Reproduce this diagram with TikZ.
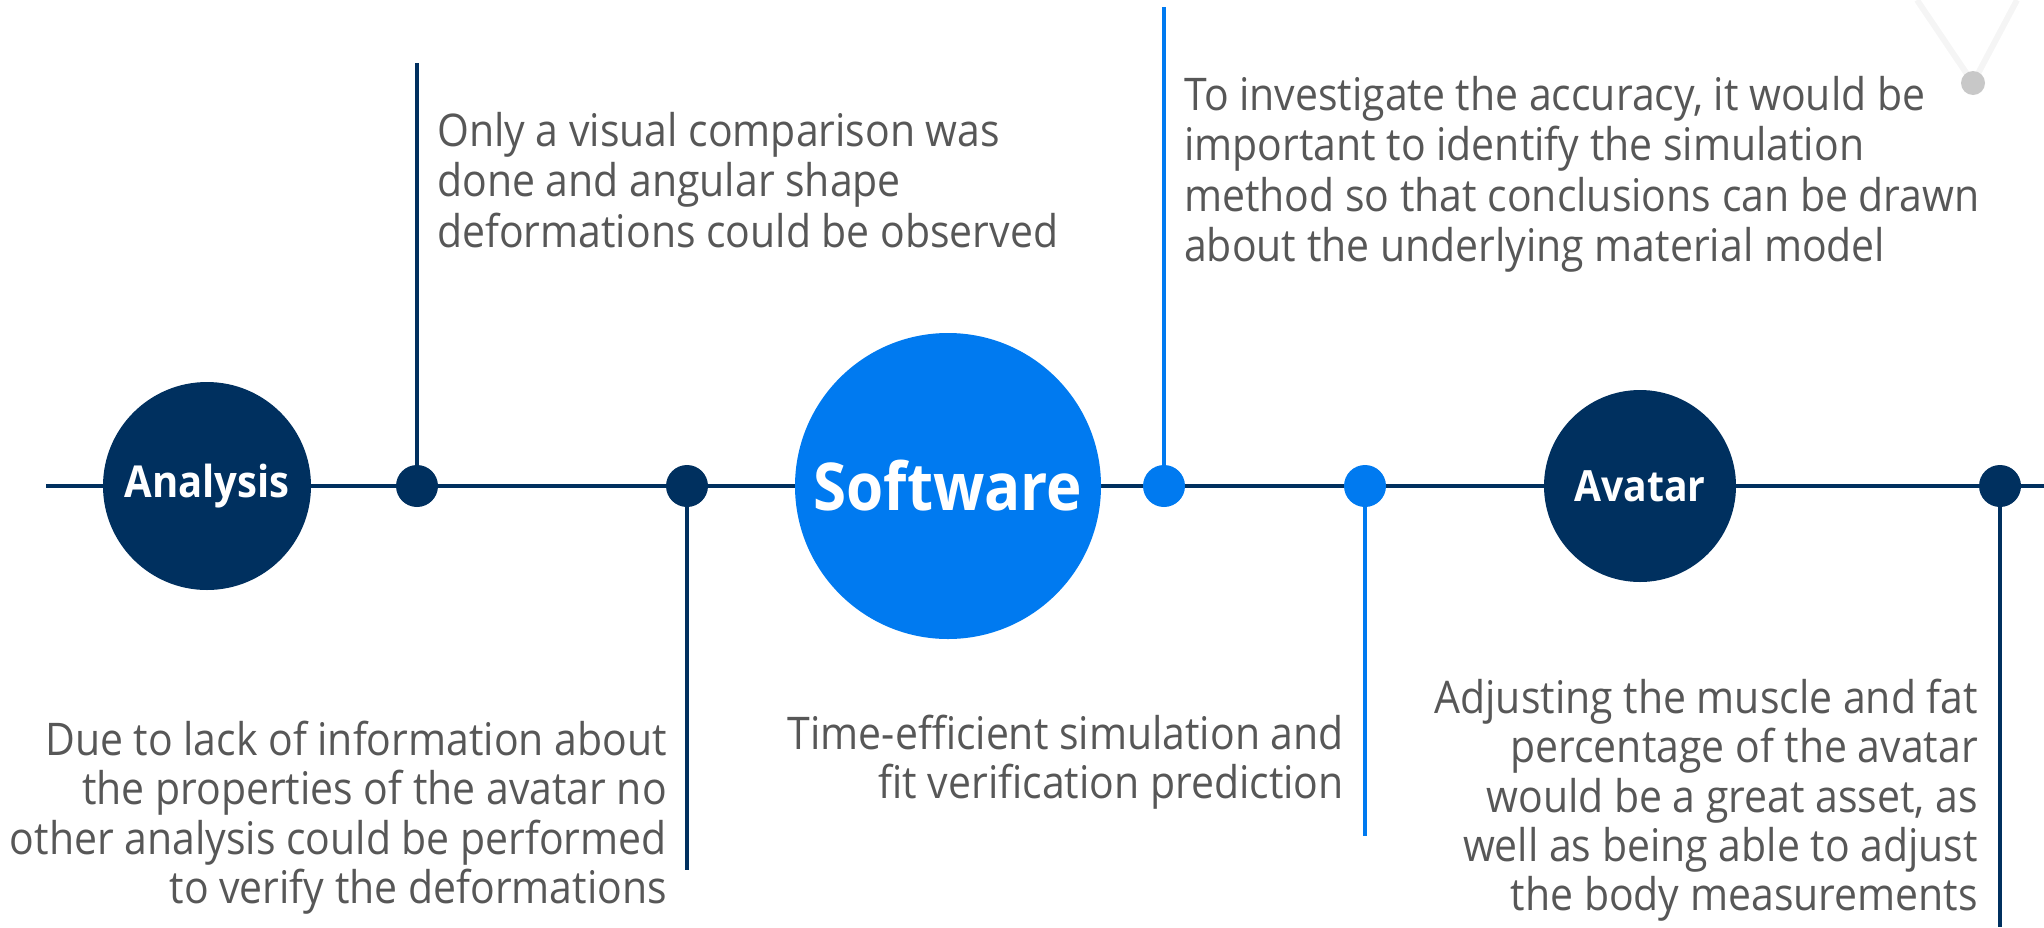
\documentclass[tikz,border=0pt]{standalone}
\usepackage{fontspec}
\setmainfont{Open Sans}[FakeStretch=0.91]
\usetikzlibrary{calc}
\definecolor{navy}{RGB}{0,48,95}
\definecolor{brightblue}{RGB}{0,122,240}
\definecolor{bodygray}{RGB}{87,87,87}
\definecolor{faintgray}{RGB}{200,200,200}
\tikzset{
  stem/.style={line width=3.5pt},
  dot/.style={circle, minimum size=42pt, inner sep=0pt},
  hub/.style={circle, inner sep=0pt, text=white},
  note/.style={inner sep=0pt, text=bodygray, font=\fontsize{45}{50.5}\selectfont},
  lownote/.style={note, font=\fontsize{45}{49.3}\selectfont},
}
\begin{document}
\begin{tikzpicture}[x=1pt,y=-1pt]
\useasboundingbox (0,0) rectangle (2044,927);

% faint ornament in the upper right corner
\coordinate (vl) at (1917,0);
\coordinate (vr) at (2017,0);
\coordinate (vtip) at (1973,83);
\draw[line width=6pt, black!4] (vl) -- (vtip) -- (vr);
\node[circle, fill=faintgray, minimum size=24pt, inner sep=0pt] (vdot) at (vtip) {};

% main timeline
\coordinate (tstart) at (46,486);
\coordinate (tend) at (2044,486);
\draw[navy, stem] (tstart) -- (tend);

% hubs
\node[hub, fill=navy, minimum size=208pt, font=\bfseries\fontsize{44}{50}\selectfont] (analysis) at (207,486) {Analysis};
\node[hub, fill=brightblue, minimum size=306pt, font=\bfseries\fontsize{66}{76}\selectfont] (software) at (948,486) {Software};
\node[hub, fill=navy, minimum size=192pt, font=\bfseries\fontsize{43}{50}\selectfont] (avatar) at (1640,486) {Avatar};

% milestone dots with their stems
\coordinate (s1) at (417,63);
\coordinate (s2) at (687,870);
\coordinate (s3) at (1164,7);
\coordinate (s4) at (1365,836);
\coordinate (s5) at (2000,927);
\node[dot, fill=navy] (d1) at (417,486) {};
\node[dot, fill=navy] (d2) at (687,486) {};
\node[dot, fill=brightblue] (d3) at (1164,486) {};
\node[dot, fill=brightblue] (d4) at (1365,486) {};
\node[dot, fill=navy] (d5) at (2000,486) {};
\draw[navy, stem] (d1) -- (s1);
\draw[navy, stem] (d2) -- (s2);
\draw[brightblue, stem] (d3) -- (s3);
\draw[brightblue, stem] (d4) -- (s4);
\draw[navy, stem] (d5) -- (s5);

% notes
\node[note, anchor=north west, align=left] (n1) at (437,112)
  {Only a visual comparison was\\done and angular shape\\deformations could be observed};
\node[lownote, anchor=north east, align=right] (n2) at (667,721)
  {Due to lack of information about\\the properties of the avatar no\\other analysis could be performed\\to verify the deformations};
\node[note, anchor=north west, align=left] (n3) at (1184,76)
  {To investigate the accuracy, it would be\\important to identify the simulation\\method so that conclusions can be drawn\\about the underlying material model};
\node[lownote, anchor=north east, align=right] (n4) at (1344,715)
  {Time-efficient simulation and\\fit verification prediction};
\node[lownote, anchor=north east, align=right] (n5) at (1978,679)
  {Adjusting the muscle and fat\\percentage of the avatar\\would be a great asset, as\\well as being able to adjust\\the body measurements};
\end{tikzpicture}
\end{document}
